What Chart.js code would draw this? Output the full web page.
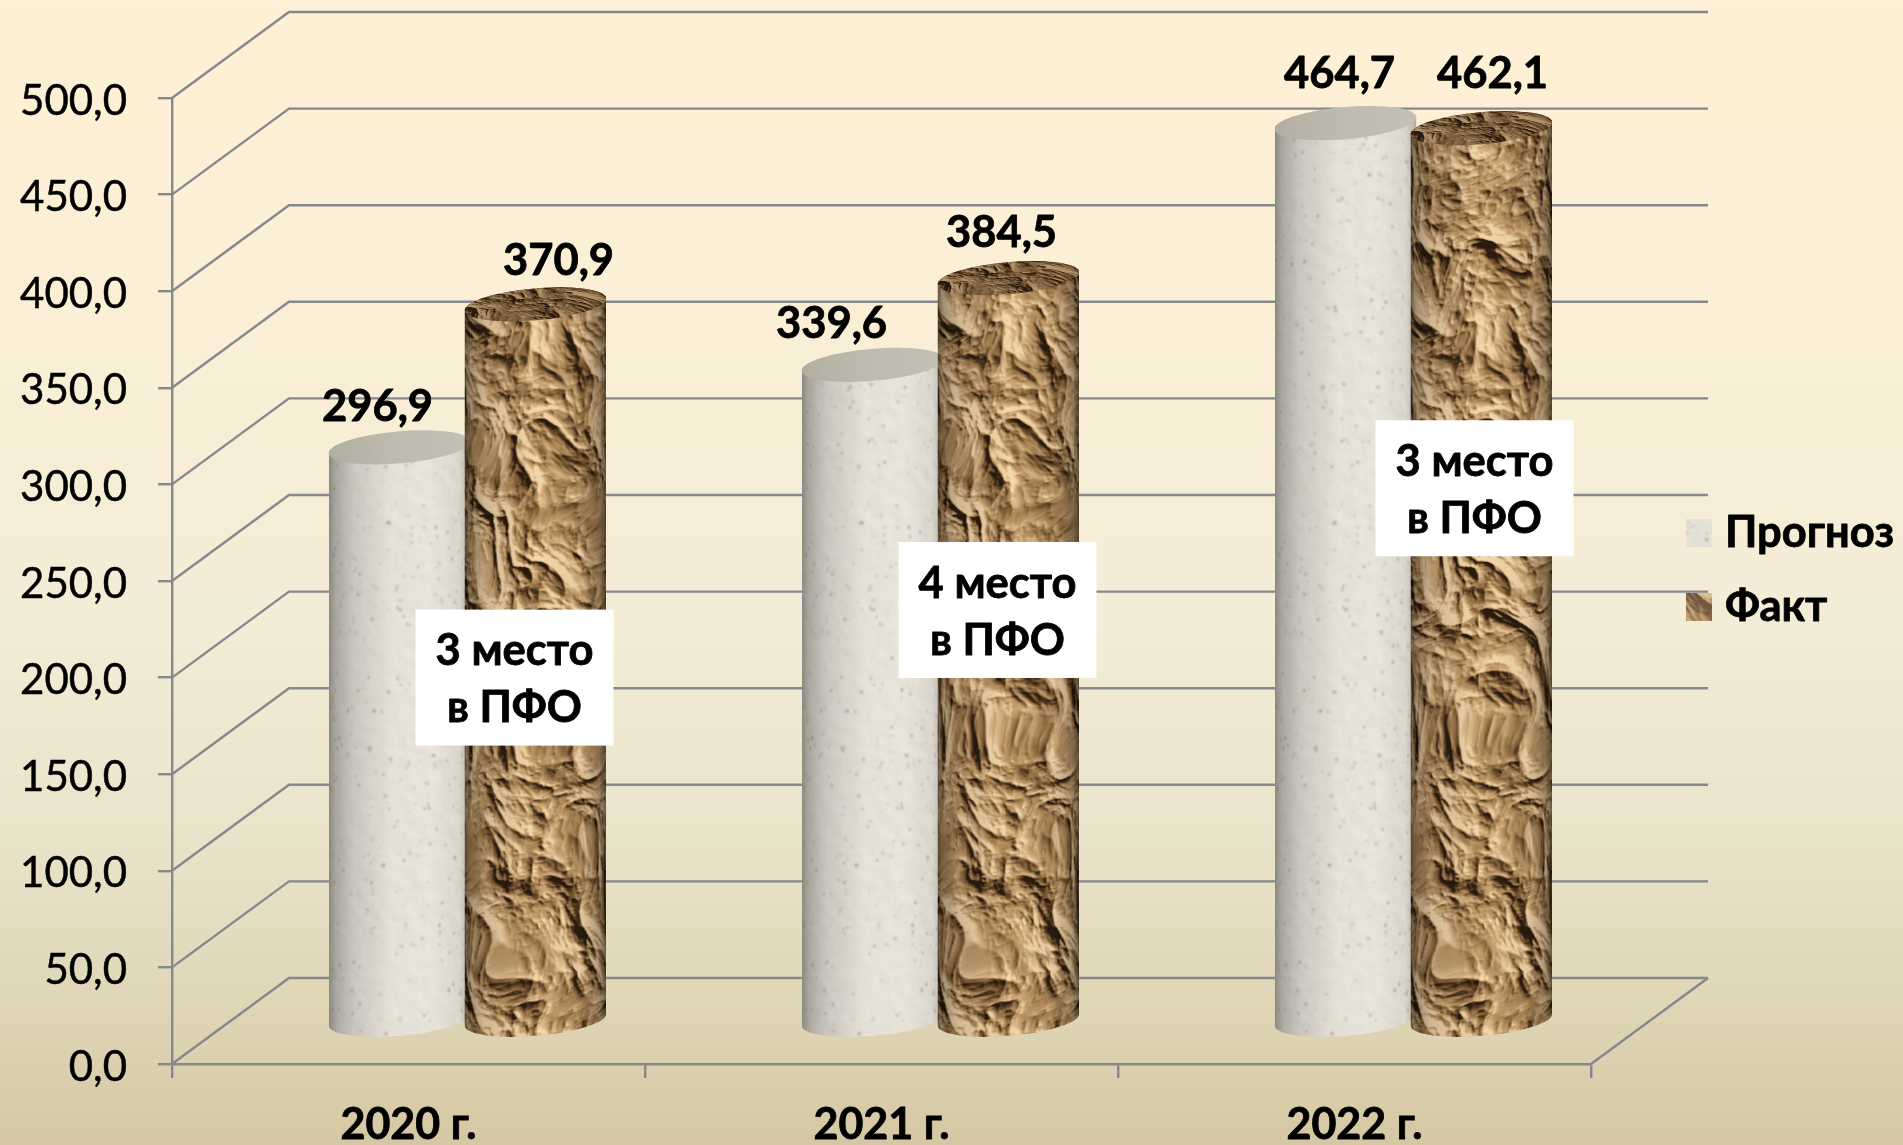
<!DOCTYPE html>
<html lang="ru">
<head>
<meta charset="utf-8">
<title>Прогноз и факт</title>
<script src="https://cdn.jsdelivr.net/npm/chart.js@4"></script>
<style>
html,body{margin:0;padding:0;width:1903px;height:1145px;overflow:hidden;
background:linear-gradient(180deg,#FEF0D4 0%,#FAEFD6 30%,#F3ECD6 55%,#EAE4CB 72%,#DFD6B6 88%,#D5C7A3 100%);}
canvas{display:block}
</style>
</head>
<body>
<canvas id="c" width="1903" height="1145"></canvas>
<script>
const categories = ['2020 г.', '2021 г.', '2022 г.'];
const forecastLabel = 'Прогноз';
const actualLabel = 'Факт';
const forecastValues = [296.9, 339.6, 464.7];
const actualValues = [370.9, 384.5, 462.1];
const rankNotes = [['3 место', 'в ПФО'], ['4 место', 'в ПФО'], ['3 место', 'в ПФО']];
const axisMax = 500;
const axisStep = 50;

/* ---------- layout and style, separate from the data ---------- */
const FONT = 'Lato, "Open Sans", sans-serif';
const GRID = '#85888C';
const DEPTH = {dx: 117, dy: -86};
const MID = {dx: 59, dy: -43};
const CYL = {rx: 71, ry: 16, tilt: -5 * Math.PI / 180};
const labelNudge = [[[-22, -40], [23, -43]], [[-41, -41], [-7, -45]], [[-6, -49], [11, -54]]];
const noteAnchor = [[106, 200], [116, 235], [120, 298]];

/* ---------- procedural surface textures (decoration only) ---------- */
function lcg(seed){let s=seed>>>0;return()=>{s=(Math.imul(s,1664525)+1013904223)>>>0;return s/4294967296;};}
function makeLattice(seed){const r=lcg(seed),a=new Float32Array(65536);for(let i=0;i<65536;i++)a[i]=r();return a;}
function vnoise(L,x,y){
  const xi=Math.floor(x),yi=Math.floor(y),fx=x-xi,fy=y-yi;
  const sx=fx*fx*(3-2*fx),sy=fy*fy*(3-2*fy);
  const a=L[((yi&255)<<8)|(xi&255)],b=L[((yi&255)<<8)|((xi+1)&255)];
  const c=L[(((yi+1)&255)<<8)|(xi&255)],d=L[(((yi+1)&255)<<8)|((xi+1)&255)];
  return a+(b-a)*sx+(c-a)*sy+(a-b-c+d)*sx*sy;
}
function crumpleField(w,h,base,seed){
  const L=makeLattice(seed),H=new Float32Array(w*h);
  const ca=Math.cos(.9),sa=Math.sin(.9);
  for(let y=0;y<h;y++)for(let x=0;x<w;x++){
    const wx=(vnoise(L,x/55+11,y/55+3)-.5)*40,wy=(vnoise(L,x/55+37,y/55+29)-.5)*40;
    const px=x+wx,py=y+wy;
    let u=(px*ca+py*sa)/base,v=(-px*sa+py*ca)/(base*1.08),amp=1,sum=0;
    let weight=1;
    for(let o=0;o<5;o++){
      const n=vnoise(L,u+o*17.3,v+o*9.1);
      const ridge=1-Math.abs(2*n-1);
      const s=ridge*ridge*weight;
      sum+=s*amp;
      weight=Math.min(1,s*1.5+.4);
      const nu=u*1.87+v*1.02,nv=v*1.87-u*1.02;u=nu*.86;v=nv*.86;amp*=.52;
    }
    H[y*w+x]=sum*base*.62;
  }
  return H;
}
function softField(w,h,base,seed){
  const L=makeLattice(seed),H=new Float32Array(w*h);
  for(let y=0;y<h;y++)for(let x=0;x<w;x++){
    H[y*w+x]=vnoise(L,x/base,y/base)+.5*vnoise(L,x/base*2.3+5,y/base*2.3+9)+.3*vnoise(L,x/base*5+7,y/base*5+2);
  }
  return H;
}
function lerpColor(stops,t){
  t=Math.max(0,Math.min(.9999,t))*(stops.length-1);
  const i=Math.floor(t),f=t-i,a=stops[i],b=stops[i+1];
  return [a[0]+(b[0]-a[0])*f,a[1]+(b[1]-a[1])*f,a[2]+(b[2]-a[2])*f];
}
function lit(H,w,h,gain,stops,center,step){
  const c=document.createElement('canvas');c.width=w;c.height=h;
  const g=c.getContext('2d'),im=g.createImageData(w,h);
  for(let y=0;y<h;y++)for(let x=0;x<w;x++){
    const xa=Math.max(0,x-step),xb=Math.min(w-1,x+step),ya=Math.max(0,y-step),yb=Math.min(h-1,y+step);
    const l=(H[yb*w+xa]-H[ya*w+xb]);
    const col=lerpColor(stops,center+l*gain);
    const k=(y*w+x)*4;im.data[k]=col[0];im.data[k+1]=col[1];im.data[k+2]=col[2];im.data[k+3]=255;
  }
  g.putImageData(im,0,0);
  return c;
}
function soften(src,px){
  const c=document.createElement('canvas');c.width=src.width;c.height=src.height;
  const g=c.getContext('2d');g.filter='blur('+px+'px)';g.drawImage(src,0,0);return c;
}
function wrapOnCylinder(src,width,shade){
  const h=src.height,sw=src.width;
  const sd=src.getContext('2d').getImageData(0,0,sw,h).data;
  const c=document.createElement('canvas');c.width=width;c.height=h;
  const g=c.getContext('2d'),im=g.createImageData(width,h);
  for(let i=0;i<width;i++){
    const n=(i+.5)/(width/2)-1,u=Math.min(sw-1,Math.floor((Math.asin(n)/Math.PI+.5)*sw)),m=shade((n+1)/2);
    for(let y=0;y<h;y++){
      const s=(y*sw+u)*4,k=(y*width+i)*4;
      im.data[k]=Math.min(255,sd[s]*m);im.data[k+1]=Math.min(255,sd[s+1]*m);im.data[k+2]=Math.min(255,sd[s+2]*m);im.data[k+3]=255;
    }
  }
  g.putImageData(im,0,0);return c;
}
function curve(pts){return t=>{for(let i=1;i<pts.length;i++){if(t<=pts[i][0]){const a=pts[i-1],b=pts[i];return a[1]+(b[1]-a[1])*(t-a[0])/(b[0]-a[0]);}}return pts[pts.length-1][1];};}

const TEX_W=Math.round(Math.PI*CYL.rx),TEX_H=1000,BODY_W=CYL.rx*2;
const paperStops=[[40,26,14],[78,54,30],[126,94,56],[164,128,84],[190,154,108],[214,180,136],[234,206,164]];
const paperFlat=soften(lit(crumpleField(TEX_W,TEX_H,50,23),TEX_W,TEX_H,.085,paperStops,.57,1),.5);
const stoneStops=[[206,201,189],[222,217,206],[233,228,218],[240,236,227]];
const stoneRaw=lit(softField(TEX_W,TEX_H,11,53),TEX_W,TEX_H,.22,stoneStops,.6,2);
(function(){const g=stoneRaw.getContext('2d'),r=lcg(77);
  for(let i=0;i<1000;i++){g.fillStyle='rgba(105,100,86,'+(.14+r()*.45)+')';g.beginPath();g.arc(r()*TEX_W,r()*TEX_H,.5+r()*1.2,0,7);g.fill();}
})();
const stoneFlat=soften(stoneRaw,.8);
const paperBody=wrapOnCylinder(paperFlat,BODY_W,curve([[0,.5],[.04,.7],[.15,.9],[.5,1.04],[.82,.98],[.95,.74],[1,.45]]));
const stoneBody=wrapOnCylinder(stoneFlat,BODY_W,curve([[0,.6],[.05,.74],[.18,.88],[.45,1],[.72,1.01],[.92,.95],[1,.78]]));
const paperLid=soften(lit(crumpleField(TEX_W,TEX_H,46,91),TEX_W,TEX_H,.09,[[38,24,12],[78,54,30],[118,90,58],[150,120,84],[178,148,108]],.52,1),.4);

/* ---------- plugin: depth frame, cylinders, labels, notes, legend ---------- */
function ellipsePath(ctx,cx,cy,a,b){ctx.ellipse(cx,cy,CYL.rx,CYL.ry,CYL.tilt,a,b);}
function drawBody(ctx,bar,tex){
  const cx=bar.x+MID.dx,top=bar.y+MID.dy,base=bar.base+MID.dy;
  ctx.save();ctx.beginPath();
  ellipsePath(ctx,cx,base,0,Math.PI);
  ellipsePath(ctx,cx,top,Math.PI,2*Math.PI);
  ctx.closePath();ctx.clip();
  ctx.drawImage(tex,cx-CYL.rx,base+CYL.ry+8-TEX_H);
  ctx.restore();
}
function drawLid(ctx,bar,isPaper){
  const cx=bar.x+MID.dx,top=bar.y+MID.dy;
  ctx.save();ctx.beginPath();ellipsePath(ctx,cx,top,0,2*Math.PI);ctx.clip();
  if(isPaper){
    ctx.drawImage(paperLid,0,0,TEX_W,170,cx-CYL.rx,top-CYL.ry-8,CYL.rx*2,CYL.ry*2+16);
  }else{
    const g=ctx.createLinearGradient(cx-CYL.rx,0,cx+CYL.rx,0);
    g.addColorStop(0,'#A9A698');g.addColorStop(.5,'#B8B5A9');g.addColorStop(1,'#BDBAAE');
    ctx.fillStyle=g;ctx.fillRect(cx-CYL.rx-4,top-CYL.ry-10,CYL.rx*2+8,CYL.ry*2+20);
    ctx.globalAlpha=.15;ctx.drawImage(stoneFlat,0,100,TEX_W,120,cx-CYL.rx,top-CYL.ry-8,CYL.rx*2,CYL.ry*2+16);ctx.globalAlpha=1;
  }
  ctx.restore();
}
const fmt=v=>v.toFixed(1).replace('.',',');
function boldText(ctx,t,x,y){ctx.strokeText(t,x,y);ctx.fillText(t,x,y);}
const cylinderPlugin={
  id:'cylinders',
  beforeDraw(chart){
    /* nudge the y tick labels after layout so they sit level with the ticks */
    chart.scales.y.getLabelItems(chart.chartArea).forEach(it=>{
      if(!it.nudged){it.options.translation[1]+=3;it.nudged=true;}
    });
  },
  beforeDatasetsDraw(chart){
    const {ctx,scales:{y},chartArea:a}=chart;
    ctx.save();ctx.strokeStyle=GRID;ctx.lineWidth=2.4;ctx.lineJoin='miter';
    y.ticks.forEach(t=>{
      const py=y.getPixelForValue(t.value);
      ctx.beginPath();ctx.moveTo(a.left,py);ctx.lineTo(a.left+DEPTH.dx,py+DEPTH.dy);ctx.lineTo(a.right+DEPTH.dx,py+DEPTH.dy);ctx.stroke();
    });
    const p0=y.getPixelForValue(0);
    ctx.beginPath();ctx.moveTo(a.right,p0);ctx.lineTo(a.right+DEPTH.dx,p0+DEPTH.dy);ctx.stroke();
    ctx.restore();
  },
  beforeDatasetDraw(){return false;},
  afterDatasetsDraw(chart){
    const {ctx,scales:{x,y}}=chart;
    const mf=chart.getDatasetMeta(0).data,ma=chart.getDatasetMeta(1).data;
    categories.forEach((_,i)=>{
      const f=mf[i],a=ma[i];
      drawBody(ctx,f,stoneBody);
      if(forecastValues[i]<=actualValues[i])drawLid(ctx,f,false);
      drawBody(ctx,a,paperBody);
      drawLid(ctx,a,true);
      if(forecastValues[i]>actualValues[i])drawLid(ctx,f,false);
    });
    ctx.save();ctx.fillStyle='#000';ctx.strokeStyle='#000';ctx.lineWidth=.8;ctx.lineJoin='round';
    ctx.textAlign='center';ctx.textBaseline='middle';
    ctx.font='700 43.5px '+FONT;
    categories.forEach((_,i)=>{
      [mf[i],ma[i]].forEach((bar,s)=>{
        const val=(s?actualValues:forecastValues)[i],n=labelNudge[i][s];
        boldText(ctx,fmt(val),bar.x+MID.dx+n[0],bar.y+MID.dy+n[1]);
      });
    });
    rankNotes.forEach((lines,i)=>{
      const cx=x.getPixelForValue(i)+noteAnchor[i][0],cy=y.getPixelForValue(noteAnchor[i][1]);
      ctx.fillStyle='#fff';ctx.fillRect(cx-99,cy-68,198,136);
      ctx.fillStyle='#000';
      lines.forEach((t,k)=>boldText(ctx,t,cx,cy+2+(k-.5)*57));
    });
    /* legend */
    ctx.textAlign='left';
    ctx.drawImage(stoneFlat,30,200,26,28,1686,519,26,28);
    ctx.fillStyle='#C9A97E';ctx.fillRect(1686,593,26,28);
    ctx.globalAlpha=.55;ctx.drawImage(paperFlat,30,200,26,28,1686,593,26,28);ctx.globalAlpha=1;
    ctx.fillStyle='#000';
    boldText(ctx,forecastLabel,1725,533);
    boldText(ctx,actualLabel,1725,607);
    ctx.restore();
  }
};

new Chart(document.getElementById('c'),{
  type:'bar',
  data:{labels:categories,datasets:[
    {label:forecastLabel,data:forecastValues,backgroundColor:'#E6E2D7'},
    {label:actualLabel,data:actualValues,backgroundColor:'#B8935F'}
  ]},
  options:{
    responsive:false,animation:false,
    categoryPercentage:.575,barPercentage:1.044,
    layout:{padding:{left:0,right:312,top:98,bottom:0}},
    plugins:{legend:{display:false},tooltip:{enabled:false},title:{display:false}},
    scales:{
      x:{
        afterFit(s){s.height=81;},
        grid:{offset:true,drawOnChartArea:false,tickLength:14,color:GRID,lineWidth:2.4},
        border:{color:GRID,width:2.4},
        ticks:{color:'#000',font:{family:FONT,size:43,weight:'700'},padding:21,maxRotation:0,autoSkip:false,
          textStrokeColor:'#000',textStrokeWidth:.8}
      },
      y:{
        min:0,max:axisMax,
        afterFit(s){s.width=172;},
        grid:{drawOnChartArea:false,tickLength:14,color:GRID,lineWidth:2.4},
        border:{color:GRID,width:2.4},
        ticks:{stepSize:axisStep,color:'#000',font:{family:FONT,size:42,weight:'400'},padding:31,
          autoSkip:false,callback:v=>fmt(v),textStrokeColor:'#000',textStrokeWidth:.5}
      }
    }
  },
  plugins:[cylinderPlugin]
});
</script>
</body>
</html>
